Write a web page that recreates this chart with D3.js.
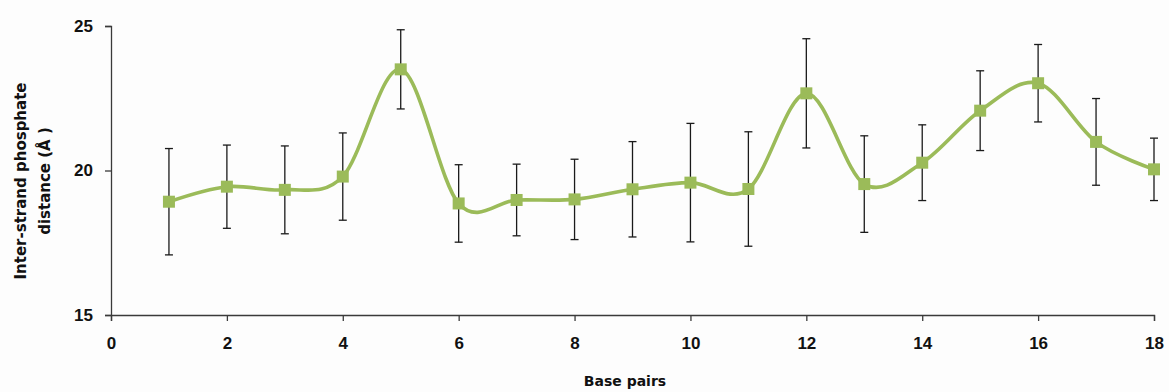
<!DOCTYPE html>
<html>
<head>
<meta charset="utf-8">
<script src="https://cdn.jsdelivr.net/npm/d3@7"></script>
<style>
  html, body { margin: 0; padding: 0; background: #fdfdfd; }
  svg { display: block; }
</style>
</head>
<body>
<svg id="chart" width="1169" height="392"></svg>
<script>
// Mean inter-strand phosphate distance per base pair, with standard deviation
const basePairs = [1, 2, 3, 4, 5, 6, 7, 8, 9, 10, 11, 12, 13, 14, 15, 16, 17, 18];
const distance  = [18.92, 19.44, 19.33, 19.79, 23.50, 18.86, 18.98, 19.00, 19.35,
                   19.58, 19.36, 22.67, 19.53, 20.27, 22.07, 23.02, 20.99, 20.04];
const deviation = [1.84, 1.44, 1.52, 1.51, 1.37, 1.34, 1.24, 1.39, 1.65,
                   2.05, 1.98, 1.89, 1.67, 1.31, 1.38, 1.34, 1.50, 1.08];
const xTicks = [0, 2, 4, 6, 8, 10, 12, 14, 16, 18];
const yTicks = [15, 20, 25];

const svg = d3.select("#chart");
const plot = { left: 111, right: 1154, top: 26, bottom: 315 };

const x = d3.scaleLinear().domain([0, 18]).range([plot.left, plot.right]);
const y = d3.scaleLinear().domain([15, 25]).range([plot.bottom, plot.top]);

const green = "#9bbb59";
const axisColor = "#3a3a3a";
const tickFont = "'Liberation Sans', Arial, sans-serif";
const titleFont = "'DejaVu Sans', Verdana, sans-serif";

// Y axis
const yAxis = svg.append("g")
  .attr("transform", `translate(${plot.left},0)`)
  .call(d3.axisLeft(y).tickValues(yTicks).tickSize(6).tickPadding(12).tickFormat(d3.format("d")));

// X axis
const xAxis = svg.append("g")
  .attr("transform", `translate(0,${plot.bottom})`)
  .call(d3.axisBottom(x).tickValues(xTicks).tickSize(6).tickPadding(16).tickFormat(d3.format("d")));

[yAxis, xAxis].forEach(g => {
  g.select(".domain").attr("stroke", axisColor).attr("stroke-width", 1.3);
  g.selectAll(".tick line").attr("stroke", axisColor).attr("stroke-width", 1.3);
  g.selectAll(".tick text")
    .attr("fill", "#111")
    .style("font-family", tickFont)
    .style("font-weight", "bold")
    .style("font-size", "17px");
});

// Error bars
const capHalf = 4;
const bars = svg.append("g").attr("stroke", "#1a1a1a").attr("stroke-width", 1.3).attr("fill", "none");
basePairs.forEach((bp, i) => {
  const cx = x(bp);
  const hi = y(distance[i] + deviation[i]);
  const lo = y(distance[i] - deviation[i]);
  bars.append("line").attr("x1", cx).attr("x2", cx).attr("y1", hi).attr("y2", lo);
  bars.append("line").attr("x1", cx - capHalf).attr("x2", cx + capHalf).attr("y1", hi).attr("y2", hi);
  bars.append("line").attr("x1", cx - capHalf).attr("x2", cx + capHalf).attr("y1", lo).attr("y2", lo);
});

// Smoothed series line
const line = d3.line()
  .x((d, i) => x(basePairs[i]))
  .y(d => y(d))
  .curve(d3.curveCatmullRom.alpha(0));

svg.append("path")
  .datum(distance)
  .attr("d", line)
  .attr("fill", "none")
  .attr("stroke", green)
  .attr("stroke-width", 3.6)
  .attr("stroke-linejoin", "round");

// Square markers
const m = 12;
svg.append("g").selectAll("rect")
  .data(distance)
  .join("rect")
  .attr("x", (d, i) => x(basePairs[i]) - m / 2)
  .attr("y", d => y(d) - m / 2)
  .attr("width", m)
  .attr("height", m)
  .attr("fill", green);

// Axis titles
svg.append("text")
  .attr("x", 625)
  .attr("y", 386)
  .attr("text-anchor", "middle")
  .style("font-family", titleFont)
  .style("font-weight", "bold")
  .style("font-size", "14px")
  .attr("fill", "#111")
  .text("Base pairs");

const yTitle = svg.append("text")
  .attr("transform", "translate(0,181) rotate(-90)")
  .attr("text-anchor", "middle")
  .style("font-family", titleFont)
  .style("font-weight", "bold")
  .style("font-size", "15px")
  .attr("fill", "#111");
yTitle.append("tspan").attr("x", 0).attr("y", 26).text("Inter-strand phosphate");
yTitle.append("tspan").attr("x", 0).attr("y", 50).text("distance (Å )");
</script>
</body>
</html>
